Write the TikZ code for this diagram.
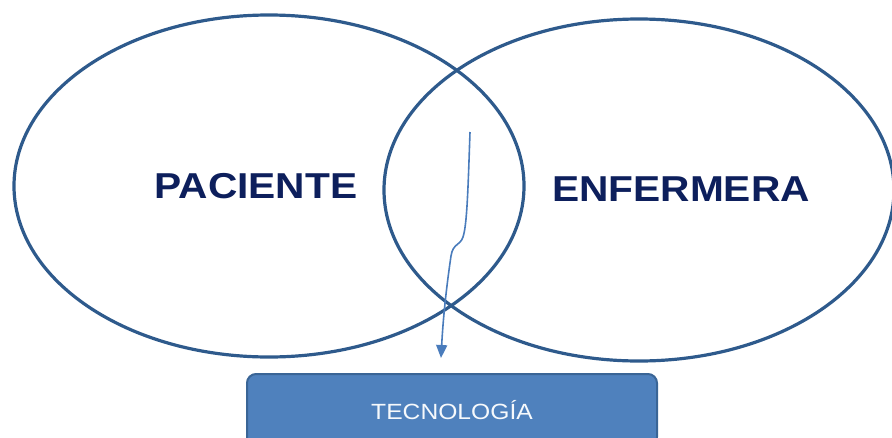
\documentclass[tikz,border=0pt]{standalone}
\usepackage{fontspec}
\setmainfont{Liberation Sans}
\usepackage{tikz}
\usetikzlibrary{shapes.geometric,arrows.meta}
\definecolor{borde}{HTML}{2E5A8C}
\definecolor{marino}{HTML}{0D1F5C}
\definecolor{relleno}{HTML}{4F81BD}
\definecolor{bordecaja}{HTML}{3A6596}
\definecolor{flechaazul}{HTML}{4A7CBC}

\begin{document}
\begin{tikzpicture}[x=1pt,y=-1pt,>={Triangle[length=13pt,width=11pt]}]
        \tikzstyle{circulo}=[ellipse,draw=borde,line width=3.2pt,inner sep=0pt,
            minimum width=510pt,minimum height=342pt]
        \tikzstyle{nombre}=[text=marino,font=\bfseries\fontsize{36}{40}\selectfont,xscale=1.13]
        \tikzstyle{caja}=[draw=bordecaja,fill=relleno,rounded corners=9pt,line width=2pt,
            minimum width=410pt,minimum height=72pt,anchor=north,text=white!95!relleno,
            font=\fontsize{22}{26}\selectfont]
        \useasboundingbox (0,0) rectangle (892,437);

        \node[circulo] (paciente) at (269,186) {};
        \node[circulo] (enfermera) at (639,190) {};
        \node[nombre] (tpaciente) at (256,186) {PACIENTE};
        \node[nombre] (tenfermera) at (681,189) {ENFERMERA};
        \node[caja] (tecno) at (452,373) {\scalebox{1.12}[1]{TECNOLOGÍA}};

        \coordinate (inicio) at (470,132);
        \coordinate (punta) at (441,358);
        \draw[->,flechaazul,line width=1.6pt] (inicio)
            .. controls (468,190) and (467,225) .. (463,237)
            .. controls (460,246) and (453,243) .. (451,256)
            .. controls (446,290) and (443,320) .. (punta);
\end{tikzpicture}
\end{document}
